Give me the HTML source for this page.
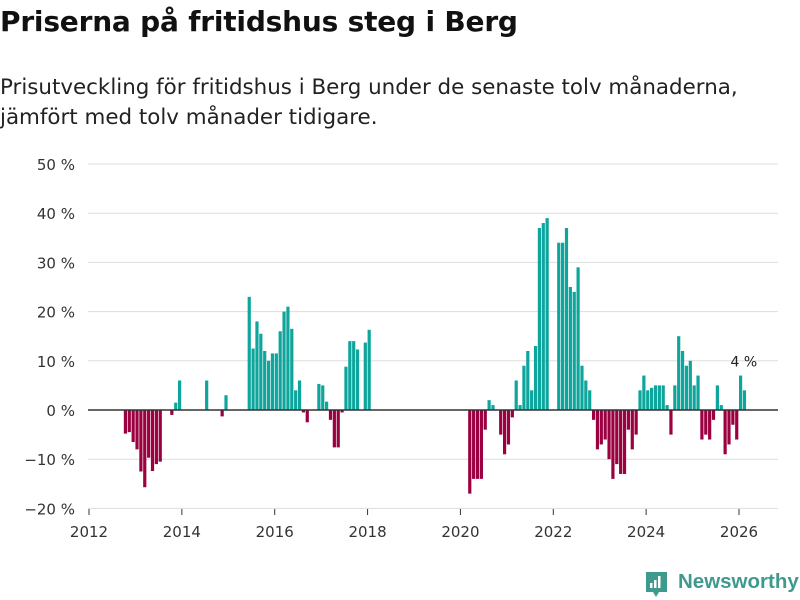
<!DOCTYPE html>
<html><head><meta charset="utf-8"><style>
body{margin:0;background:#fff;width:800px;height:600px;overflow:hidden;font-family:"DejaVu Sans",sans-serif;}
#title{position:absolute;left:0;top:5px;font-size:28px;font-weight:bold;color:#111;margin:0;letter-spacing:-0.2px;white-space:nowrap;}
#sub{position:absolute;left:0;top:73px;font-size:21.4px;line-height:30px;color:#222;white-space:nowrap;}
svg{position:absolute;left:0;top:0;}
</style></head><body>
<h1 id="title">Priserna på fritidshus steg i Berg</h1>
<div id="sub">Prisutveckling för fritidshus i Berg under de senaste tolv månaderna,<br>jämfört med tolv månader tidigare.</div>
<svg id="chart" width="800" height="600"></svg>
<script>
const months = [9,10,11,12,13,14,15,16,17,18,21,22,23,30,34,35,41,42,43,44,45,46,47,48,49,50,51,52,53,54,55,56,59,60,61,62,63,64,65,66,67,68,69,71,72,98,99,100,101,102,103,104,106,107,108,109,110,111,112,113,114,115,116,117,118,121,122,123,124,125,126,127,128,129,130,131,132,133,134,135,136,137,138,139,140,141,142,143,144,145,146,147,148,149,150,151,152,153,154,155,156,157,158,159,160,161,162,163,164,165,166,167,168,169];
const values = [-4.8,-4.5,-6.5,-8,-12.5,-15.7,-9.7,-12.4,-11,-10.5,-1,1.5,6,6,-1.3,3,23,12.5,18,15.5,12,10,11.5,11.5,16,20,21,16.5,4,6,-0.5,-2.5,5.3,5,1.7,-2,-7.6,-7.6,-0.5,8.8,14,14,12.3,13.7,16.3,-17,-14,-14,-14,-4,2,1,-5,-9,-7,-1.5,6,1,9,12,4,13,37,38,39,34,34,37,25,24,29,9,6,4,-2,-8,-7,-6,-10,-14,-11,-13,-13,-4,-8,-5,4,7,4,4.5,5,5,5,1,-5,5,15,12,9,10,5,7,-6,-5,-6,-2,5,1,-9,-7,-3,-6,7,4];
const yTicks = [-20,-10,0,10,20,30,40,50];
const xYears = [2012,2014,2016,2018,2020,2022,2024,2026];
const NS="http://www.w3.org/2000/svg";
const svg=document.getElementById('chart');
const x=m=>89+m*(650/168);
const y=v=>410-v*4.92;
const FF='DejaVu Sans,sans-serif';
function mk(t,a){const e=document.createElementNS(NS,t);for(const k in a)e.setAttribute(k,a[k]);svg.appendChild(e);return e;}
yTicks.forEach(t=>{
  if(t!==0){const g=mk('line',{x1:88,x2:778,y1:y(t),y2:y(t),stroke:'#ddd','stroke-width':1});
  
  }
  const l=mk('text',{x:75,y:y(t)+6,'text-anchor':'end','font-size':15,fill:'#333','font-family':FF});
  l.textContent=(t<0?'\u2212'+(-t):t)+' %';
  
  
});
months.forEach((m,i)=>{
  const v=values[i];
  const r=mk('rect',{x:x(m),width:3.2,y:Math.min(y(v),y(0)),height:Math.abs(y(v)-y(0)),fill:v>=0?'#0ea59c':'#9b0040'});
  
  
});
const z=mk('line',{x1:88,x2:778,y1:y(0),y2:y(0),stroke:'#333','stroke-width':1.5});


xYears.forEach(yr=>{
  const xx=x((yr-2012)*12);
  const tk=mk('line',{x1:xx,x2:xx,y1:509,y2:515,stroke:'#333','stroke-width':1});
  
  
  const l=mk('text',{x:xx,y:537,'text-anchor':'middle','font-size':15,fill:'#333','font-family':FF});
  l.textContent=yr;
  
  
});
const lastI=values.length-1;
const lab=mk('text',{x:x(months[lastI])+1,y:y(values[lastI]+7.5)+13,'text-anchor':'middle','font-size':14,fill:'#222','font-family':FF});
lab.textContent=values[lastI]+' %';


</script>
<div style="position:absolute;left:645px;top:570px;height:26px;">
<svg width="24" height="30" style="position:absolute;left:0;top:0"><path d="M1 2h21v20h-8l-3 5-3-5H1z" fill="#3f9a8e"/><rect x="5" y="13" width="2.5" height="5" fill="#fff"/><rect x="9" y="10" width="2.5" height="8" fill="#fff"/><rect x="13" y="6" width="2.5" height="12" fill="#fff"/></svg>
<span style="position:absolute;left:33px;top:0;font-size:20.5px;font-weight:bold;color:#3f9a8e;white-space:nowrap;font-family:'Liberation Sans',sans-serif;">Newsworthy</span>
</div>
</body></html>
